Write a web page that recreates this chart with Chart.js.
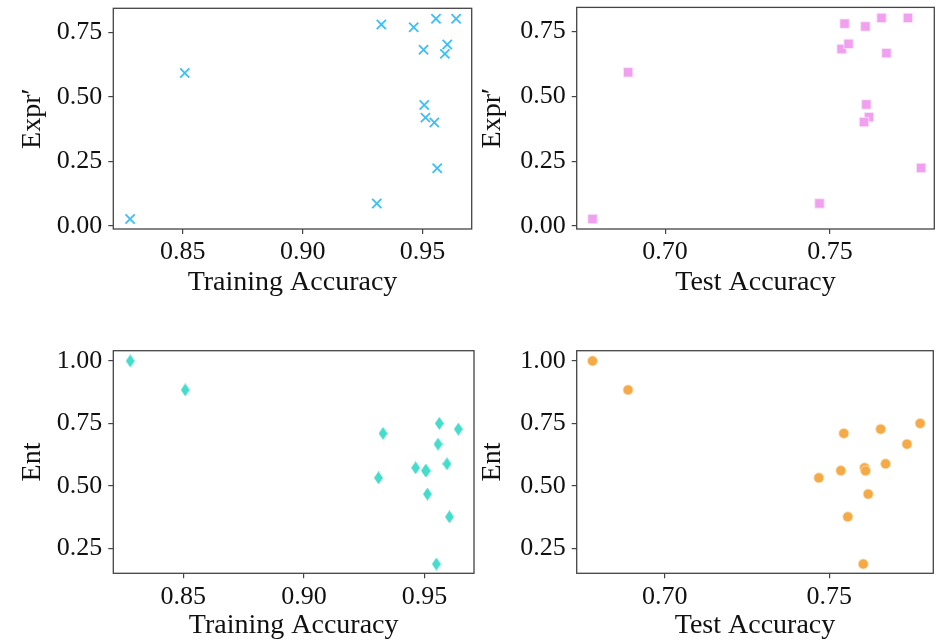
<!DOCTYPE html>
<html lang="en">
<head>
    <meta charset="UTF-8">
    <title>Accuracy vs Expr' / Ent</title>
    <script src="https://cdn.jsdelivr.net/npm/chart.js"></script>
    <style>
        body { margin: 0; background: #fff; }
        #wrap { position: relative; width: 948px; height: 642px; overflow: hidden; }
        #wrap canvas { position: absolute; }
    </style>
</head>
<body>
    <div id="wrap">
        <canvas id="trainExpr" width="480" height="299" style="left:0;top:0"></canvas>
        <canvas id="testExpr" width="488" height="299" style="left:460px;top:0"></canvas>
        <canvas id="trainEnt" width="480" height="322" style="left:0;top:320px"></canvas>
        <canvas id="testEnt" width="488" height="322" style="left:460px;top:320px"></canvas>
    </div>

    <script>
        // one entry per model, same order in every array
        const trainAcc = [0.8280, 0.8508, 0.9328, 0.9309, 0.9463, 0.9504, 0.9507, 0.9512, 0.9549, 0.9556, 0.9561, 0.9593, 0.9603, 0.9640];
        const testAcc  = [0.6780, 0.6888, 0.7544, 0.7468, 0.7607, 0.7535, 0.7610, 0.7618, 0.7603, 0.7736, 0.7776, 0.7671, 0.7556, 0.7656];
        const exprVals = [0.027, 0.593, 0.781, 0.087, 0.770, 0.683, 0.469, 0.420, 0.401, 0.803, 0.224, 0.667, 0.703, 0.803];
        const entVals  = [1.000, 0.884, 0.710, 0.532, 0.572, 0.561, 0.560, 0.467, 0.187, 0.667, 0.750, 0.588, 0.376, 0.727];

        // tick labels
        const trainTicks = [0.85, 0.90, 0.95];
        const testTicks = [0.70, 0.75];
        const exprTicks = [0.00, 0.25, 0.50, 0.75];
        const entTicks = [0.25, 0.50, 0.75, 1.00];

        const FONT = "'Liberation Serif', 'Times New Roman', serif";
        const AXIS = '#444';

        // thin diamond marker (matplotlib 'd')
        const diamond = document.createElement('canvas');
        diamond.width = 9;
        diamond.height = 13;
        (function () {
            const c = diamond.getContext('2d');
            c.fillStyle = '#45dccb';
            c.beginPath();
            c.moveTo(4.5, 0);
            c.lineTo(9, 6.5);
            c.lineTo(4.5, 13);
            c.lineTo(0, 6.5);
            c.closePath();
            c.fill();
        })();

        // box around the plot area
        const frame = {
            id: 'frame',
            afterDraw(chart) {
                const a = chart.chartArea;
                const ctx = chart.ctx;
                ctx.save();
                ctx.strokeStyle = AXIS;
                ctx.lineWidth = 1.3;
                ctx.strokeRect(a.left, a.top, a.right - a.left, a.bottom - a.top);
                ctx.restore();
            }
        };

        function scatter(id, xs, ys, opts) {
            const pts = xs.map((x, i) => ({ x: x, y: ys[i] }));
            new Chart(document.getElementById(id), {
                type: 'scatter',
                data: {
                    datasets: [{
                        data: pts,
                        pointStyle: opts.style,
                        pointRadius: opts.radius,
                        pointBackgroundColor: opts.color,
                        pointBorderColor: opts.border,
                        pointBorderWidth: opts.borderWidth
                    }]
                },
                options: {
                    responsive: false,
                    animation: false,
                    devicePixelRatio: 1,
                    layout: { padding: opts.pad },
                    plugins: { legend: { display: false }, tooltip: { enabled: false } },
                    scales: {
                        x: {
                            type: 'linear',
                            min: opts.xMin,
                            max: opts.xMax,
                            afterBuildTicks: s => { s.ticks = opts.xTicks.map(v => ({ value: v })); },
                            afterFit: s => {
                                s.height = opts.xHeight;
                                s.paddingLeft = 0;
                                s.paddingRight = 0;
                            },
                            grid: { drawOnChartArea: false, tickLength: 5, color: AXIS, lineWidth: 1.2 },
                            border: { display: false },
                            ticks: {
                                color: '#111',
                                padding: 3,
                                font: { family: FONT, size: 26 },
                                callback: v => v.toFixed(2)
                            },
                            title: {
                                display: true,
                                text: opts.xTitle,
                                color: '#111',
                                padding: { top: 0, bottom: 0 },
                                font: { family: FONT, size: 28 }
                            }
                        },
                        y: {
                            type: 'linear',
                            min: opts.yMin,
                            max: opts.yMax,
                            afterBuildTicks: s => { s.ticks = opts.yTicks.map(v => ({ value: v })); },
                            afterFit: s => {
                                s.width = opts.yWidth;
                                s.paddingTop = 0;
                                s.paddingBottom = 0;
                            },
                            grid: { drawOnChartArea: false, tickLength: 5, color: AXIS, lineWidth: 1.2 },
                            border: { display: false },
                            ticks: {
                                color: '#111',
                                padding: 6,
                                font: { family: FONT, size: 26 },
                                callback: v => v.toFixed(2)
                            },
                            title: {
                                display: true,
                                text: opts.yTitle,
                                color: '#111',
                                padding: { top: 16, bottom: 0 },
                                font: { family: FONT, size: 28 }
                            }
                        }
                    }
                },
                plugins: [frame]
            });
        }

        const exprRange = { yMin: -0.0115, yMax: 0.8435, yTicks: exprTicks, yTitle: 'Expr\u2032' };
        const entRange = { yMin: 0.150, yMax: 1.041, yTicks: entTicks, yTitle: 'Ent' };
        const trainRange = { xMin: 0.821, xMax: 0.9705, xTicks: trainTicks, xTitle: 'Training Accuracy', yWidth: 113.3 };
        const testRange = { xMin: 0.6732, xMax: 0.7816, xTicks: testTicks, xTitle: 'Test Accuracy', yWidth: 116.7 };

        scatter('trainExpr', trainAcc, exprVals, Object.assign({}, trainRange, exprRange, {
            style: 'crossRot', radius: 6.5, color: '#3cbff7', border: '#3cbff7', borderWidth: 1.8,
            pad: { top: 6.7, right: 3, left: 0, bottom: 0 }, xHeight: 70
        }));
        scatter('testExpr', testAcc, exprVals, Object.assign({}, testRange, exprRange, {
            style: 'rect', radius: 6.6, color: '#f0a0ee', border: '#fbe6fb', borderWidth: 0.8,
            pad: { top: 6.7, right: 13.7, left: 0, bottom: 0 }, xHeight: 70
        }));
        scatter('trainEnt', trainAcc, entVals, Object.assign({}, trainRange, entRange, {
            style: diamond, radius: 6, color: '#45dccb', border: '#45dccb', borderWidth: 0,
            pad: { top: 30.7, right: 3, left: 0, bottom: 0 }, xHeight: 68.7
        }));
        scatter('testEnt', testAcc, entVals, Object.assign({}, testRange, entRange, {
            style: 'circle', radius: 5, color: '#f5aa48', border: '#fbe0b8', borderWidth: 0.8,
            pad: { top: 30.7, right: 14.7, left: 0, bottom: 0 }, xHeight: 68.7
        }));
    </script>
</body>
</html>
